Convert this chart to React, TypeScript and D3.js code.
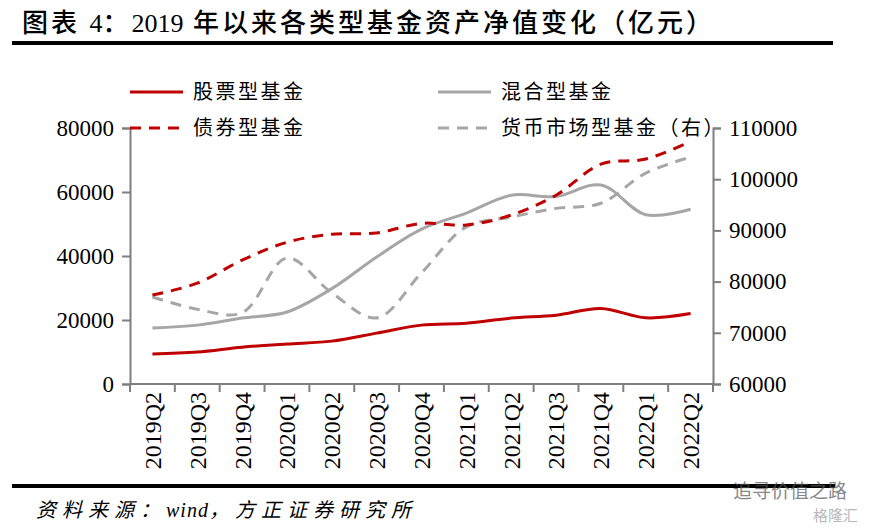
import React, { useEffect, useRef } from 'react';
import * as d3 from 'd3';

const quarters = ['2019Q2', '2019Q3', '2019Q4', '2020Q1', '2020Q2', '2020Q3', '2020Q4',
  '2021Q1', '2021Q2', '2021Q3', '2021Q4', '2022Q1', '2022Q2'];

// left axis
const stockFund = [9400, 10000, 11500, 12500, 13400, 15900, 18400, 19000, 20600, 21500, 23600, 20700, 22000];
const mixedFund = [17500, 18400, 20600, 22500, 29800, 39700, 48400, 53400, 59000, 58600, 62200, 52900, 54600];
const bondFund = [27800, 31500, 38700, 44300, 46800, 47200, 50200, 49700, 52800, 59000, 68700, 70300, 75800];
// right axis
const moneyFund = [77000, 74600, 73900, 84600, 77800, 72900, 81700, 90700, 92600, 94300, 95300, 101200, 104300];

const leftTicks = [0, 20000, 40000, 60000, 80000];
const rightTicks = [60000, 70000, 80000, 90000, 100000, 110000];

const RED = '#C00000';
const GRAY = '#A6A6A6';
const AXIS = '#7F7F7F';
const SERIF = '"Times New Roman", "Liberation Serif", "Noto Sans CJK SC", serif';
const CJK = '"Liberation Serif", "Noto Sans CJK SC", serif';

const App: React.FC = () => {
  const ref = useRef<SVGSVGElement | null>(null);

  useEffect(() => {
    if (!ref.current) return;
    const svg = d3.select(ref.current);
    svg.selectAll('*').remove();

    const left = 130, right = 713, top = 128, bottom = 384;

    const x = d3.scaleBand<string>().domain(quarters).range([left, right]);
    const xc = (i: number) => (x(quarters[i]) as number) + x.bandwidth() / 2;
    const yL = d3.scaleLinear().domain([0, 80000]).range([bottom, top]);
    const yR = d3.scaleLinear().domain([60000, 110000]).range([bottom, top]);

    // title
    const title = svg.append('text').attr('x', 22).attr('y', 32)
      .attr('font-family', CJK).attr('font-size', 26).attr('font-weight', 500)
      .attr('fill', '#000');
    [['图表 ', 3], ['4', 0], ['：', 3], ['2019', 0], [' 年以来各类型基金资产净值变化（亿元）', 3]]
      .forEach(([t, ls]) => title.append('tspan').attr('letter-spacing', ls as number).text(t as string));
    svg.append('line').attr('x1', 12).attr('x2', 833).attr('y1', 43).attr('y2', 43)
      .attr('stroke', '#000').attr('stroke-width', 4);

    // axes
    const gL = svg.append('g').attr('transform', `translate(${left},0)`)
      .call(d3.axisLeft(yL).tickValues(leftTicks).tickFormat(d => String(d)).tickSize(8).tickPadding(8));
    const gR = svg.append('g').attr('transform', `translate(${right},0)`)
      .call(d3.axisRight(yR).tickValues(rightTicks).tickFormat(d => String(d)).tickSize(8).tickPadding(8));
    const gX = svg.append('g').attr('transform', `translate(0,${bottom})`)
      .call(d3.axisBottom(x).tickSize(0).tickPadding(0));

    [gL, gR, gX].forEach(g => {
      g.select('.domain').attr('stroke', AXIS).attr('stroke-width', 2);
      g.selectAll('.tick line').attr('stroke', AXIS).attr('stroke-width', 2);
      g.selectAll('.tick text').attr('font-family', SERIF).attr('font-size', 23).attr('fill', '#000');
    });
    gX.select('.domain').attr('d', `M${left},0H${right}`);
    gX.selectAll('.tick text')
      .attr('transform', 'rotate(-90)')
      .attr('text-anchor', 'end')
      .attr('dy', '0.35em')
      .attr('x', -8)
      .attr('y', 0)
      .attr('font-size', 24);
    // category boundary ticks
    gX.selectAll('line.bnd')
      .data(d3.range(quarters.length + 1))
      .enter().append('line').attr('class', 'bnd')
      .attr('x1', i => left + i * x.step()).attr('x2', i => left + i * x.step())
      .attr('y1', 0).attr('y2', 8)
      .attr('stroke', AXIS).attr('stroke-width', 2);

    const curve = d3.curveCatmullRom.alpha(0.5);
    const lineL = d3.line<number>().x((_, i) => xc(i)).y(d => yL(d)).curve(curve);
    const lineR = d3.line<number>().x((_, i) => xc(i)).y(d => yR(d)).curve(curve);

    const series = [
      { data: mixedFund, gen: lineL, color: GRAY, dash: null },
      { data: moneyFund, gen: lineR, color: GRAY, dash: '11,8' },
      { data: stockFund, gen: lineL, color: RED, dash: null },
      { data: bondFund, gen: lineL, color: RED, dash: '11,8' },
    ];
    series.forEach(s => {
      svg.append('path').attr('d', s.gen(s.data) as string)
        .attr('fill', 'none').attr('stroke', s.color).attr('stroke-width', 3)
        .attr('stroke-dasharray', s.dash);
    });

    // legend
    const legend = [
      { label: '股票型基金', color: RED, dash: null, lx: 130, ly: 92 },
      { label: '混合型基金', color: GRAY, dash: null, lx: 438, ly: 92 },
      { label: '债券型基金', color: RED, dash: '11,8', lx: 130, ly: 128 },
      { label: '货币市场型基金（右）', color: GRAY, dash: '11,8', lx: 438, ly: 128 },
    ];
    legend.forEach(l => {
      svg.append('line').attr('x1', l.lx).attr('x2', l.lx + 53).attr('y1', l.ly).attr('y2', l.ly)
        .attr('stroke', l.color).attr('stroke-width', 3).attr('stroke-dasharray', l.dash);
      svg.append('text').attr('x', l.lx + 63).attr('y', l.ly).attr('dy', '0.35em')
        .attr('font-family', CJK).attr('font-size', 20).attr('letter-spacing', 2.5)
        .attr('fill', '#000').text(l.label);
    });

    // footer
    svg.append('line').attr('x1', 12).attr('x2', 835).attr('y1', 486).attr('y2', 486)
      .attr('stroke', '#000').attr('stroke-width', 4);
    const src = svg.append('text').attr('x', 36).attr('y', 517)
      .attr('font-family', CJK).attr('font-size', 20).attr('font-style', 'italic')
      .attr('fill', '#000');
    [['资料来源：', 6], ['wind', 1], ['，方正证券研究所', 6]]
      .forEach(([t, ls]) => src.append('tspan').attr('letter-spacing', ls as number).text(t as string));
    svg.append('text').attr('x', 733).attr('y', 498)
      .attr('font-family', '"Noto Sans CJK SC", sans-serif').attr('font-size', 19)
      .attr('fill', '#555').attr('opacity', 0.7).text('追寻价值之路');
    svg.append('text').attr('x', 813).attr('y', 521)
      .attr('font-family', '"Noto Sans CJK SC", sans-serif').attr('font-size', 15)
      .attr('fill', '#999').attr('opacity', 0.7).text('格隆汇');
  }, []);

  return (
    <svg ref={ref} width={876} height={529}
      style={{ position: 'absolute', left: 0, top: 0, background: '#fff' }} />
  );
};

export default App;
